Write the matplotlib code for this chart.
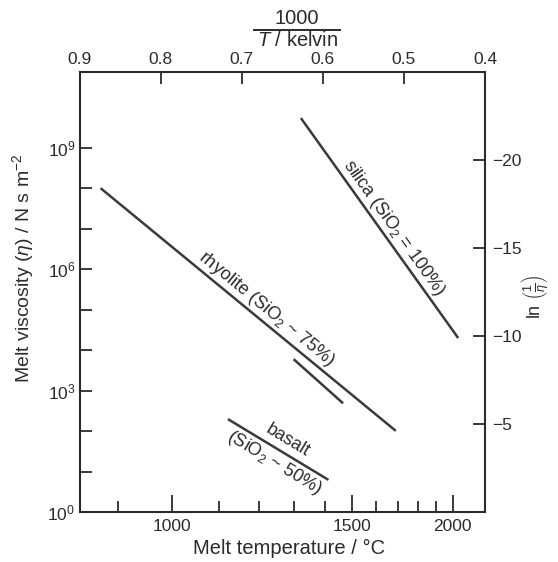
import numpy as np
import matplotlib
matplotlib.use('Agg')
import matplotlib.pyplot as plt

plt.rcParams['font.family'] = ['Liberation Sans', 'DejaVu Sans']
plt.rcParams['mathtext.fontset'] = 'custom'
plt.rcParams['mathtext.rm'] = 'Liberation Sans'
plt.rcParams['mathtext.it'] = 'Liberation Sans:italic'
plt.rcParams['mathtext.bf'] = 'Liberation Sans:bold'

# ---------------- data (x = 1000/T in 1/K, y = log10 viscosity) ----------------
silica_invT = [0.627, 0.433]
silica_logeta = [9.73, 4.30]
rhyolite_invT = [0.874, 0.510]
rhyolite_logeta = [8.00, 2.01]
rhyolite2_invT = [0.636, 0.575]
rhyolite2_logeta = [3.78, 2.69]
basalt_invT = [0.717, 0.593]
basalt_logeta = [2.30, 0.80]

top_ticks = [0.9, 0.8, 0.7, 0.6, 0.5, 0.4]
top_labels = ['0.9', '0.8', '0.7', '0.6', '0.5', '0.4']
temp_major = [1000, 1500, 2000]
temp_minor = [900, 1100, 1200, 1300, 1400, 1600, 1700, 1800, 1900]
visc_major_exp = [0, 3, 6, 9]
visc_minor_exp = [1, 2, 4, 5, 7, 8]
ln_ticks = [-5, -10, -15, -20]

W, H = 558, 562
DPI = 100
fig = plt.figure(figsize=(W / DPI, H / DPI), dpi=DPI)
L, R, T, B = 79.5, 485.0, 72.3, 512.3
ax = fig.add_axes([L / W, 1 - B / H, (R - L) / W, (B - T) / H])

INK = '#2b2b2b'
LINE = '#3a3a3a'
ymax_exp = 10.86

ax.set_xlim(0.9, 0.4)
ax.set_yscale('log')
ax.set_ylim(1, 10 ** ymax_exp)

for xs, ys in [(silica_invT, silica_logeta), (rhyolite_invT, rhyolite_logeta),
               (rhyolite2_invT, rhyolite2_logeta), (basalt_invT, basalt_logeta)]:
    ax.plot(xs, 10 ** np.array(ys), color=LINE, lw=1.8, solid_capstyle='butt')

for s in ax.spines.values():
    s.set_linewidth(1.5)
    s.set_color(INK)

# bottom axis: temperature in deg C
ax.set_xticks([1000 / (t + 273.15) for t in temp_major])
ax.set_xticklabels([str(t) for t in temp_major])
ax.set_xticks([1000 / (t + 273.15) for t in temp_minor], minor=True)
ax.tick_params(axis='x', which='major', direction='in', length=12.2, width=1.3,
               colors=INK, labelsize=12.5, pad=5, top=False)
ax.tick_params(axis='x', which='minor', direction='in', length=7.9, width=1.3,
               colors=INK, top=False)

# left axis: viscosity
ax.set_yticks([10.0 ** e for e in visc_major_exp])
ax.set_yticklabels(['10$^{%d}$' % e for e in visc_major_exp])
ax.set_yticks([10.0 ** e for e in visc_minor_exp], minor=True)
ax.yaxis.set_minor_formatter(matplotlib.ticker.NullFormatter())
ax.tick_params(axis='y', which='both', direction='in', length=8.8, width=1.3,
               colors=INK, labelsize=12.5, pad=3, right=False)

# top axis: 1000/T
axt = ax.twiny()
axt.set_xlim(0.9, 0.4)
axt.set_xticks(top_ticks)
axt.set_xticklabels(top_labels)
axt.tick_params(axis='x', direction='in', length=8.6, width=1.3, colors=INK,
                labelsize=12.5, pad=4)
for s in axt.spines.values():
    s.set_visible(False)

# right axis: ln(1/eta)
axr = ax.twinx()
axr.set_ylim(0, -ymax_exp * np.log(10))
axr.set_yticks(ln_ticks)
axr.set_yticklabels(['\u2212%d' % (-v) for v in ln_ticks])
axr.tick_params(axis='y', direction='in', length=8.6, width=1.3, colors=INK,
                labelsize=12.5, pad=5)
for s in axr.spines.values():
    s.set_visible(False)

# axis titles
def px(x, y):
    return x / W, 1 - y / H

fig.text(*px(23, 268), 'Melt viscosity ($\\eta$) / N s m$^{-2}$', rotation=90,
         ha='center', va='center', fontsize=14, color=INK)
fig.text(*px(289, 548), 'Melt temperature / \u00b0C', ha='center', va='center',
         fontsize=14.5, color=INK)
fig.text(*px(297, 19), '1000', ha='center', va='center', fontsize=14.5, color=INK)
fig.add_artist(matplotlib.lines.Line2D([254 / W, 340 / W], [1 - 29.5 / H, 1 - 29.5 / H],
                                       color=INK, lw=1.4, transform=fig.transFigure))
fig.text(*px(298, 40), '$T$ / kelvin', ha='center', va='center', fontsize=14.5, color=INK)
fig.text(*px(535, 297), 'ln $\\left(\\frac{1}{\\eta}\\right)$', rotation=90,
         ha='center', va='center', fontsize=13, color=INK)

# labels along lines
fig.canvas.draw()

def line_label(xs, ys, text, frac, offset_px, size=13):
    p = ax.transData.transform(np.column_stack([xs, 10 ** np.array(ys)]))
    d = p[1] - p[0]
    n = np.hypot(*d)
    u = d / n
    nrm = np.array([-u[1], u[0]])
    pos = p[0] + d * frac + nrm * offset_px
    ang = np.degrees(np.arctan2(d[1], d[0]))
    fig.text(pos[0] / W, pos[1] / H, text, rotation=ang, rotation_mode='anchor',
             ha='center', va='center', fontsize=size, color=INK)

line_label(silica_invT, silica_logeta, 'silica (SiO$_2$ = 100%)', 0.53, 11)
line_label(rhyolite_invT, rhyolite_logeta, 'rhyolite (SiO$_2$ ~ 75%)', 0.536, 12)
line_label(basalt_invT, basalt_logeta, 'basalt', 0.53, 12)
line_label(basalt_invT, basalt_logeta, '(SiO$_2$ ~ 50%)', 0.53, -13)

fig.savefig('out.png', dpi=DPI)
